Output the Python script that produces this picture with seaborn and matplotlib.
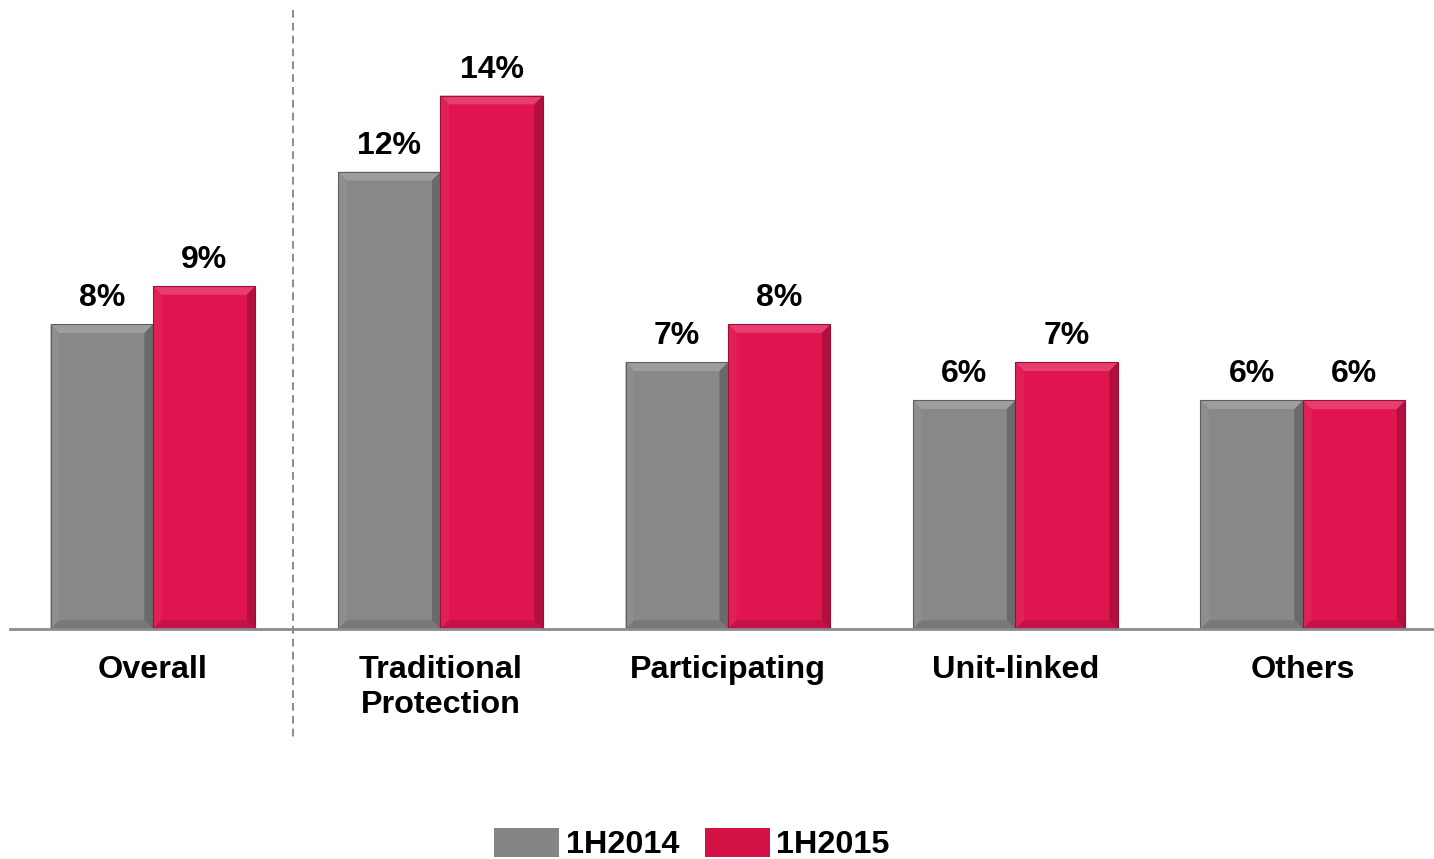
import matplotlib
matplotlib.use("Agg")
import matplotlib.pyplot as plt
import matplotlib.transforms as mtransforms
from matplotlib.patches import Patch, Polygon
from matplotlib.colors import to_rgb
import numpy as np
import pandas as pd
import seaborn as sns

# Growth by product line, first half of each year (%)
categories = ["Overall", "Traditional\nProtection", "Participating", "Unit-linked", "Others"]
series_names = ["1H2014", "1H2015"]
values_2014 = [8, 12, 7, 6, 6]
values_2015 = [9, 14, 8, 7, 6]

GRAY = "#888888"
RED = "#E0144F"
LEGEND_GRAY = "#858585"
LEGEND_RED = "#D41245"

df = pd.DataFrame({
    "category": categories * 2,
    "period": [series_names[0]] * len(categories) + [series_names[1]] * len(categories),
    "value": values_2014 + values_2015,
})

sns.set_theme(style="white")
plt.rcParams["font.family"] = ["Liberation Sans", "DejaVu Sans"]
plt.rcParams["font.weight"] = "bold"
plt.rcParams["text.color"] = "black"

W, H = 1434, 859
fig = plt.figure(figsize=(W / 100, H / 100), dpi=100)
base_px = 629
top_px = 10
ax = fig.add_axes([10 / W, (H - base_px) / H, (W - 10) / W, (base_px - top_px) / H])

sns.barplot(data=df, x="category", y="value", hue="period", order=categories,
            hue_order=series_names, palette=[GRAY, RED], width=0.713,
            saturation=1, legend=False, ax=ax, edgecolor="none", linewidth=0)

px_per_unit_y = 38.1
ax.set_ylim(0, (base_px - top_px) / px_per_unit_y)
ax.set_xlim(-0.4974, 4.4557)


def shade(c, f):
    r, g, b = to_rgb(c)
    if f >= 0:
        return (r + (1 - r) * f, g + (1 - g) * f, b + (1 - b) * f)
    return (r * (1 + f), g * (1 + f), b * (1 + f))


# Bevel faces on each bar and value labels
bx, by = 0.030, 0.23
for patch in list(ax.patches):
    x0, y0 = patch.get_x(), patch.get_y()
    w, h = patch.get_width(), patch.get_height()
    x1, y1 = x0 + w, y0 + h
    c = patch.get_facecolor()
    faces = [
        ([(x0, y1), (x1, y1), (x1 - bx, y1 - by), (x0 + bx, y1 - by)], shade(c, 0.18)),
        ([(x0, y0), (x0, y1), (x0 + bx, y1 - by), (x0 + bx, y0 + by)], shade(c, 0.05)),
        ([(x1, y0), (x1, y1), (x1 - bx, y1 - by), (x1 - bx, y0 + by)], shade(c, -0.22)),
        ([(x0, y0), (x1, y0), (x1 - bx, y0 + by), (x0 + bx, y0 + by)], shade(c, -0.12)),
    ]
    for pts, fc in faces:
        ax.add_patch(Polygon(pts, closed=True, facecolor=fc, edgecolor="none", zorder=patch.get_zorder() + 0.1))
    ax.add_patch(plt.Rectangle((x0, y0), w, h, fill=False, edgecolor=shade(c, -0.3),
                               linewidth=0.8, zorder=patch.get_zorder() + 0.2))
    ax.annotate(f"{h:.0f}%", (x0 + w / 2, y1), xytext=(0, 13), textcoords="offset points",
                ha="center", va="baseline", fontsize=23, fontweight="bold", color="black")

# Axes styling
for side in ["top", "right", "left"]:
    ax.spines[side].set_visible(False)
ax.spines["bottom"].set_color("#8C8C8C")
ax.spines["bottom"].set_linewidth(2)
ax.spines["bottom"].set_zorder(5)
ax.set_yticks([])
ax.set_xlabel("")
ax.set_ylabel("")
ax.tick_params(axis="x", length=0, pad=18.5)
ax.set_xticks(range(len(categories)))
ax.set_xticklabels(categories, fontsize=23.3, fontweight="bold", color="black", linespacing=1.22)

# Dashed separator between the total and the product lines
trans = mtransforms.blended_transform_factory(ax.transData, ax.transAxes)
ax.plot([0.487, 0.487], [1.0, -(740 - base_px) / (base_px - top_px)], transform=trans,
        clip_on=False, color="#8C8C8C", linewidth=1.4, dashes=(4, 2.6), zorder=1)

handles = [Patch(facecolor=LEGEND_GRAY, edgecolor="none", label=series_names[0]),
           Patch(facecolor=LEGEND_RED, edgecolor="none", label=series_names[1])]
fig.legend(handles=handles, loc="center", bbox_to_anchor=(692 / W, 15 / H), ncol=2,
           frameon=False, prop={"size": 23.3, "weight": "bold"}, handlelength=2.0,
           handleheight=1.0, handletextpad=0.2, columnspacing=0.8, borderpad=0,
           labelcolor="black")

fig.savefig("out.png", dpi=100)
